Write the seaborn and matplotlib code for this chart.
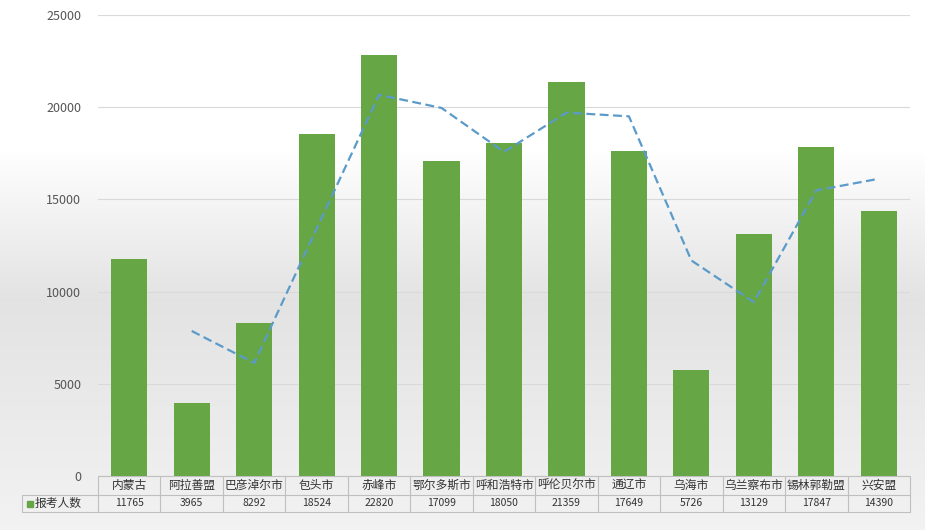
import matplotlib
matplotlib.use("Agg")
import matplotlib.pyplot as plt
import seaborn as sns
import pandas as pd
import numpy as np
from matplotlib.lines import Line2D
from matplotlib.patches import Rectangle

categories = ["内蒙古","阿拉善盟","巴彦淖尔市","包头市","赤峰市","鄂尔多斯市","呼和浩特市","呼伦贝尔市","通辽市","乌海市","乌兰察布市","锡林郭勒盟","兴安盟"]
values = [11765,3965,8292,18524,22820,17099,18050,21359,17649,5726,13129,17847,14390]
series_name = "报考人数"
yticks = [0,5000,10000,15000,20000,25000]

sns.set_theme(style="white")
plt.rcParams['font.family'] = ['Noto Sans CJK SC', 'DejaVu Sans']

W, H = 925, 530
fig = plt.figure(figsize=(W/100, H/100), dpi=100)
bg = fig.add_axes([0,0,1,1], zorder=-10)
grad = np.concatenate([np.ones(150), np.linspace(1, 0.89, 150), np.linspace(0.89, 0.95, 230)])[:, None]
bg.imshow(np.dstack([grad, grad, grad]), aspect='auto', extent=[0,1,0,1])
bg.axis('off')

L, R, T, B = 98, 910, 15, 476
ax = fig.add_axes([L/W, 1-B/H, (R-L)/W, (B-T)/H])
ax.patch.set_alpha(0)
df = pd.DataFrame({"cat": categories, "val": values})
sns.barplot(data=df, x="cat", y="val", color="#66a644", width=0.58, ax=ax, saturation=1, linewidth=0)
ma = df["val"].rolling(2).mean()
ax.plot(range(len(values)), ma, ls=(0,(4,2)), color="#5b9bc9", lw=1.6)
ax.set_xlim(-0.5, len(values)-0.5)
ax.set_ylim(0, 25000)
ax.set_yticks(yticks)
ax.tick_params(axis='y', labelsize=9, colors="#555555", length=0, pad=12)
ax.set_xticks([])
ax.set_xlabel(""); ax.set_ylabel("")
ax.grid(axis='y', color="#d9d9d9", lw=0.8)
ax.set_axisbelow(True)
for s in ax.spines.values(): s.set_visible(False)

def fx(x): return x/W
def fy(y): return 1-y/H
lc = "#bfbfbf"
r0, r1, r2 = 476, 495, 512
n = len(categories); cw = (R-L)/n
fig.add_artist(Line2D([fx(L),fx(R)],[fy(r0)]*2,color=lc,lw=0.8))
fig.add_artist(Line2D([fx(22),fx(R)],[fy(r1)]*2,color=lc,lw=0.8))
fig.add_artist(Line2D([fx(22),fx(R)],[fy(r2)]*2,color=lc,lw=0.8))
fig.add_artist(Line2D([fx(22),fx(22)],[fy(r1),fy(r2)],color=lc,lw=0.8))
for i in range(n+1):
    x = L + i*cw
    fig.add_artist(Line2D([fx(x)]*2,[fy(r0),fy(r2)],color=lc,lw=0.8))
for i,(c,v) in enumerate(zip(categories, values)):
    xc = L + (i+0.5)*cw
    fig.text(fx(xc), fy((r0+r1)/2), c, ha='center', va='center', fontsize=8.5, color="#333333")
    fig.text(fx(xc), fy((r1+r2)/2), str(v), ha='center', va='center', fontsize=7.5, color="#333333")
fig.add_artist(Rectangle((fx(27), fy(507)), 6/W, 6/H, color="#66a644"))
fig.text(fx(35), fy((r1+r2)/2), series_name, ha='left', va='center', fontsize=8.5, color="#333333")

fig.savefig("out.png", dpi=100)
